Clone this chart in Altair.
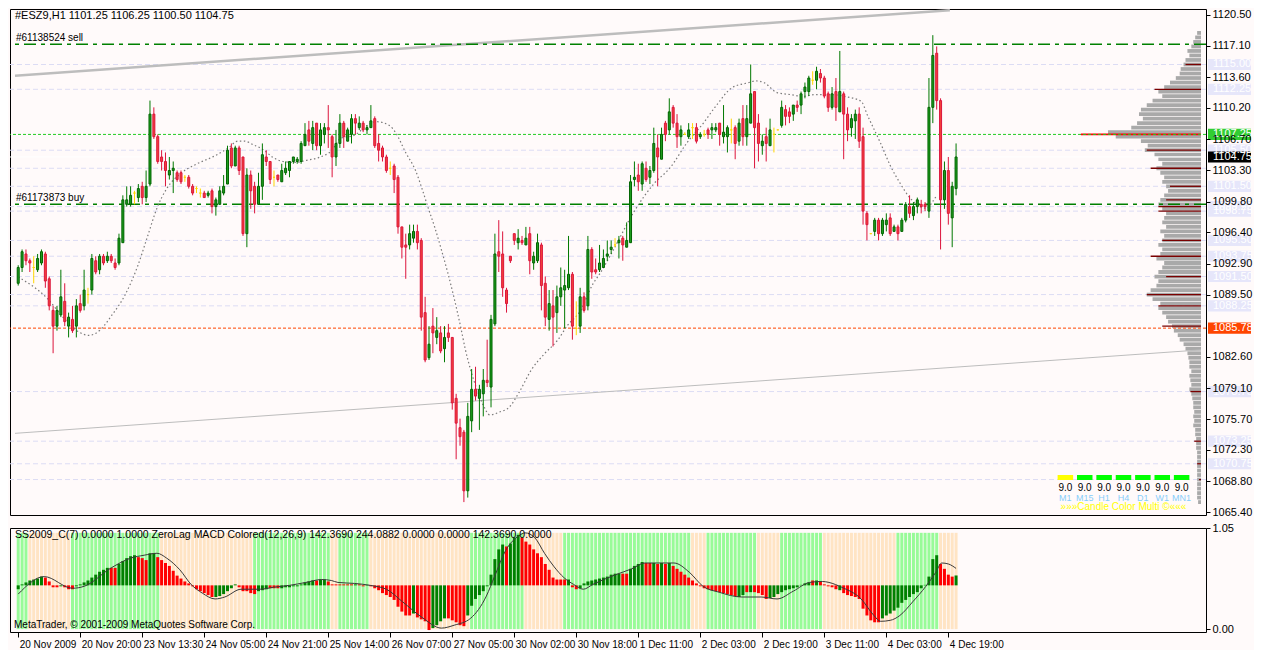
import altair as alt
import pandas as pd

FONT = "Liberation Sans"
BG = "#FFFAFA"
W, H1, H2 = 1196, 506, 104
X_DOM = [-0.83, 305.2]
Y_DOM = [1065.07, 1121.15]
MACD_DOM = [-672, 826]
SS_DOM = [-0.03, 1.05]
VOL_K = 0.25

# ---------------- candles (H1 bars, index 0..242) ----------------
opens = [
    1090.75, 1092.50, 1094.00, 1093.25, 1092.50, 1092.25, 1093.00, 1094.00, 1091.25, 1087.75,
    1086.00, 1087.25, 1088.75, 1086.00, 1086.75, 1086.00, 1088.50, 1088.25, 1089.50, 1090.00,
    1093.25, 1092.25, 1093.75, 1093.25, 1093.75, 1093.00, 1093.00, 1095.25, 1099.50, 1099.50,
    1100.75, 1100.25, 1101.50, 1100.25, 1101.75, 1109.50, 1107.00, 1104.75, 1104.25, 1102.75,
    1103.25, 1103.00, 1103.00, 1102.50, 1102.50, 1101.50, 1101.25, 1100.75, 1100.75, 1100.50,
    1101.00, 1099.25, 1099.50, 1100.75, 1101.75, 1105.75, 1103.75, 1105.75, 1104.75, 1096.25,
    1102.75, 1101.50, 1099.50, 1101.50, 1104.75, 1104.25, 1102.50, 1102.75, 1102.00, 1103.00,
    1103.25, 1104.25, 1104.25, 1104.25, 1106.00, 1107.75, 1106.25, 1108.50, 1106.00, 1107.25,
    1108.00, 1107.00, 1104.75, 1106.25, 1108.50, 1106.50, 1107.25, 1109.00, 1108.00, 1108.50,
    1107.75, 1108.00, 1109.00, 1106.25, 1105.75, 1104.75, 1103.50, 1103.75, 1102.50, 1097.00,
    1095.00, 1095.00, 1095.75, 1096.50, 1095.50, 1087.50, 1082.50, 1086.00, 1084.75, 1085.25,
    1083.50, 1085.25, 1084.75, 1078.00, 1074.75, 1074.25, 1067.75, 1075.50, 1079.00, 1078.00,
    1078.50, 1080.00, 1079.25, 1086.25, 1094.25, 1094.00, 1090.00, 1093.75, 1096.25, 1095.25,
    1095.50, 1095.00, 1096.25, 1093.00, 1093.25, 1095.00, 1090.75, 1086.75, 1088.25, 1087.50,
    1089.25, 1090.00, 1090.25, 1091.75, 1085.75, 1086.00, 1089.25, 1088.25, 1094.50, 1092.25,
    1092.25, 1092.50, 1093.75, 1094.50, 1095.00, 1095.25, 1095.75, 1094.75, 1095.25, 1102.25,
    1102.75, 1101.75, 1103.50, 1102.50, 1103.25, 1105.75, 1104.50, 1108.50, 1107.75, 1110.25,
    1108.50, 1107.00, 1107.25, 1107.00, 1108.00, 1108.00, 1107.00, 1107.25, 1107.75, 1107.75,
    1107.75, 1108.50, 1107.00, 1107.00, 1107.75, 1108.00, 1106.50, 1109.00, 1107.00, 1108.50,
    1112.00, 1108.50, 1106.00, 1107.00, 1106.00, 1107.25, 1107.75, 1108.25, 1110.00, 1109.75,
    1109.50, 1110.50, 1110.50, 1112.00, 1112.00, 1113.25, 1113.25, 1114.00, 1113.50, 1111.75,
    1110.25, 1112.00, 1109.75, 1111.75, 1109.50, 1108.00, 1108.75, 1109.50, 1107.00, 1098.50,
    1096.25, 1096.50, 1097.75, 1096.25, 1097.25, 1098.00, 1096.50, 1097.00, 1096.50, 1097.75,
    1099.25, 1098.25, 1099.25, 1099.50, 1099.50, 1098.75, 1110.25, 1116.25, 1111.00, 1100.00,
    1103.25, 1098.00, 1101.25,
]
highs = [
    1092.75, 1094.50, 1094.50, 1093.50, 1093.75, 1094.00, 1094.50, 1094.25, 1091.50, 1088.25,
    1088.25, 1092.25, 1090.75, 1087.50, 1088.25, 1089.00, 1089.50, 1092.25, 1090.25, 1094.00,
    1093.75, 1094.00, 1094.00, 1094.25, 1094.00, 1093.50, 1096.25, 1100.50, 1101.50, 1101.50,
    1101.00, 1101.75, 1102.00, 1103.25, 1111.00, 1110.25, 1107.25, 1105.50, 1105.25, 1104.75,
    1104.25, 1103.25, 1103.25, 1102.75, 1102.75, 1101.75, 1101.50, 1101.25, 1101.00, 1101.00,
    1101.25, 1100.25, 1101.50, 1102.75, 1106.00, 1106.25, 1106.00, 1106.00, 1104.75, 1103.50,
    1103.25, 1102.00, 1103.00, 1106.25, 1105.50, 1104.25, 1103.25, 1102.75, 1104.00, 1104.25,
    1104.25, 1104.75, 1104.75, 1106.50, 1108.50, 1108.75, 1108.75, 1108.50, 1108.50, 1108.50,
    1110.50, 1107.25, 1107.75, 1109.50, 1108.75, 1108.00, 1109.50, 1109.50, 1109.25, 1108.75,
    1108.25, 1110.50, 1109.25, 1107.25, 1106.00, 1105.00, 1104.25, 1104.00, 1102.75, 1097.00,
    1096.25, 1097.25, 1097.25, 1097.25, 1095.75, 1089.25, 1086.00, 1088.00, 1087.00, 1086.00,
    1086.00, 1086.25, 1084.75, 1078.50, 1075.75, 1074.50, 1077.50, 1081.25, 1081.50, 1079.50,
    1081.25, 1084.50, 1087.25, 1096.25, 1097.75, 1096.50, 1090.25, 1093.75, 1096.25, 1096.75,
    1096.00, 1097.00, 1097.00, 1094.25, 1096.25, 1095.25, 1091.50, 1090.00, 1090.00, 1090.50,
    1092.50, 1092.25, 1096.00, 1092.00, 1088.75, 1090.25, 1089.75, 1096.00, 1094.75, 1093.50,
    1095.00, 1094.50, 1095.50, 1095.50, 1095.75, 1096.00, 1096.00, 1097.50, 1102.75, 1104.25,
    1104.00, 1104.25, 1104.25, 1103.75, 1108.00, 1107.25, 1108.00, 1108.75, 1111.25, 1110.50,
    1109.50, 1108.25, 1107.50, 1108.50, 1108.50, 1108.50, 1107.50, 1107.75, 1108.00, 1108.50,
    1108.50, 1108.50, 1110.50, 1108.25, 1109.00, 1108.25, 1109.00, 1110.50, 1110.50, 1115.00,
    1112.00, 1109.50, 1107.25, 1108.00, 1109.00, 1108.00, 1107.75, 1111.00, 1110.50, 1110.25,
    1110.50, 1111.00, 1112.00, 1113.00, 1113.75, 1114.25, 1114.75, 1114.50, 1113.75, 1112.00,
    1112.50, 1113.50, 1116.50, 1112.00, 1110.25, 1109.50, 1110.00, 1110.25, 1108.00, 1098.75,
    1096.25, 1098.00, 1098.00, 1098.00, 1098.50, 1098.50, 1097.25, 1097.25, 1098.00, 1099.75,
    1100.50, 1099.75, 1100.25, 1100.00, 1099.75, 1113.50, 1118.25, 1117.00, 1111.25, 1104.25,
    1104.75, 1102.00, 1106.25,
]
lows = [
    1090.50, 1092.00, 1092.75, 1092.00, 1090.75, 1092.00, 1092.75, 1090.25, 1087.75, 1083.00,
    1085.50, 1087.00, 1086.00, 1084.75, 1085.25, 1084.75, 1087.50, 1087.75, 1088.50, 1089.50,
    1091.75, 1091.75, 1092.75, 1093.00, 1093.00, 1092.25, 1092.75, 1095.25, 1099.25, 1099.25,
    1099.50, 1099.75, 1099.50, 1099.75, 1101.50, 1106.75, 1104.00, 1103.25, 1101.50, 1102.25,
    1100.75, 1102.00, 1101.75, 1102.00, 1101.25, 1100.50, 1100.75, 1100.25, 1100.25, 1100.25,
    1098.50, 1098.25, 1099.50, 1100.50, 1101.75, 1103.50, 1103.75, 1102.75, 1096.00, 1094.75,
    1099.00, 1098.50, 1099.50, 1100.00, 1103.75, 1101.75, 1101.50, 1102.00, 1102.00, 1102.75,
    1102.50, 1104.00, 1104.00, 1104.00, 1106.00, 1106.00, 1105.50, 1105.50, 1105.00, 1106.25,
    1105.75, 1102.50, 1103.75, 1105.75, 1105.75, 1106.50, 1106.25, 1107.25, 1107.75, 1107.50,
    1107.25, 1108.00, 1105.75, 1104.25, 1104.25, 1103.00, 1102.75, 1100.75, 1096.25, 1093.50,
    1091.25, 1094.50, 1095.25, 1094.50, 1085.50, 1082.00, 1082.25, 1083.00, 1084.00, 1083.00,
    1082.00, 1084.25, 1076.75, 1071.25, 1072.75, 1066.50, 1067.00, 1074.25, 1077.75, 1074.50,
    1076.00, 1079.25, 1077.00, 1086.00, 1092.00, 1089.25, 1087.50, 1093.00, 1095.00, 1094.50,
    1095.00, 1095.00, 1091.75, 1092.25, 1093.00, 1087.75, 1086.00, 1085.50, 1083.75, 1085.25,
    1088.25, 1085.75, 1090.00, 1084.50, 1085.00, 1085.25, 1087.50, 1087.75, 1091.25, 1091.75,
    1092.00, 1092.50, 1093.25, 1094.00, 1094.75, 1093.50, 1093.25, 1094.75, 1095.25, 1101.50,
    1101.00, 1101.00, 1102.00, 1101.75, 1103.00, 1101.50, 1104.50, 1106.50, 1107.25, 1108.00,
    1105.75, 1106.00, 1107.25, 1106.75, 1106.75, 1106.25, 1106.75, 1107.00, 1106.75, 1106.75,
    1107.50, 1106.00, 1106.25, 1105.25, 1106.25, 1104.50, 1106.00, 1106.00, 1106.00, 1108.50,
    1103.50, 1104.25, 1105.00, 1104.25, 1106.00, 1105.25, 1107.75, 1108.00, 1108.25, 1108.50,
    1108.75, 1109.75, 1109.50, 1111.25, 1111.50, 1112.75, 1112.25, 1113.00, 1111.25, 1109.75,
    1110.00, 1108.75, 1109.75, 1104.50, 1106.50, 1107.00, 1106.75, 1105.75, 1097.25, 1095.50,
    1096.25, 1096.00, 1095.50, 1096.00, 1096.50, 1096.00, 1096.50, 1095.50, 1096.50, 1097.50,
    1098.00, 1097.75, 1098.50, 1098.50, 1098.75, 1098.00, 1108.50, 1110.00, 1094.50, 1099.00,
    1097.25, 1094.75, 1100.50,
]
closes = [
    1092.50, 1094.25, 1093.25, 1093.00, 1092.50, 1093.50, 1094.25, 1091.00, 1088.25, 1086.00,
    1087.75, 1089.25, 1086.50, 1087.00, 1085.50, 1088.25, 1087.75, 1090.00, 1089.50, 1093.50,
    1092.00, 1093.75, 1093.00, 1093.75, 1093.25, 1092.50, 1095.75, 1100.00, 1100.00, 1100.50,
    1100.75, 1101.25, 1100.25, 1101.50, 1109.50, 1107.00, 1104.25, 1104.25, 1103.25, 1103.25,
    1103.50, 1102.25, 1102.00, 1102.50, 1101.50, 1100.75, 1101.25, 1100.75, 1100.25, 1100.75,
    1099.25, 1100.00, 1101.00, 1101.50, 1105.50, 1103.75, 1105.75, 1103.25, 1096.25, 1102.75,
    1101.00, 1099.50, 1101.50, 1105.00, 1104.25, 1102.25, 1102.50, 1102.25, 1103.25, 1103.50,
    1104.25, 1104.75, 1104.50, 1106.25, 1107.25, 1106.50, 1108.00, 1106.00, 1107.75, 1108.00,
    1107.75, 1104.75, 1106.25, 1108.50, 1107.00, 1107.75, 1109.00, 1108.50, 1108.50, 1107.75,
    1108.00, 1108.75, 1106.00, 1105.50, 1104.75, 1103.25, 1103.50, 1102.25, 1097.00, 1094.75,
    1094.75, 1096.25, 1096.50, 1095.25, 1087.00, 1082.25, 1084.00, 1085.25, 1085.50, 1083.25,
    1084.75, 1084.75, 1077.50, 1075.25, 1073.75, 1067.75, 1076.00, 1079.00, 1078.25, 1079.00,
    1080.00, 1079.75, 1086.75, 1094.00, 1093.75, 1090.25, 1088.50, 1093.25, 1095.50, 1095.75,
    1095.25, 1095.75, 1093.25, 1093.75, 1095.25, 1090.50, 1087.00, 1088.50, 1087.00, 1089.25,
    1090.25, 1090.50, 1091.75, 1086.00, 1085.75, 1089.25, 1087.75, 1094.50, 1092.00, 1092.00,
    1093.00, 1093.50, 1094.00, 1094.75, 1095.00, 1095.50, 1095.00, 1095.50, 1102.00, 1102.50,
    1102.00, 1104.00, 1102.25, 1103.25, 1106.25, 1104.75, 1107.25, 1107.25, 1109.75, 1108.50,
    1107.00, 1107.75, 1107.25, 1107.75, 1108.00, 1106.50, 1107.25, 1107.25, 1107.25, 1108.00,
    1108.00, 1107.25, 1107.50, 1108.00, 1107.75, 1106.25, 1108.50, 1107.00, 1109.00, 1111.75,
    1108.00, 1106.25, 1106.50, 1106.25, 1107.75, 1107.25, 1107.75, 1110.25, 1109.25, 1109.25,
    1110.50, 1110.25, 1111.75, 1112.50, 1113.50, 1113.25, 1114.25, 1113.50, 1111.50, 1110.25,
    1111.75, 1110.25, 1112.00, 1109.50, 1107.75, 1109.00, 1109.50, 1106.50, 1098.75, 1097.25,
    1096.25, 1097.75, 1096.25, 1097.75, 1097.75, 1096.25, 1097.00, 1096.25, 1097.75, 1099.50,
    1098.50, 1099.25, 1100.00, 1099.25, 1099.25, 1110.25, 1116.00, 1111.00, 1100.00, 1103.25,
    1098.50, 1101.50, 1104.75,
]

# dotted moving average (bar position, price)
ma_idx = [0, 7.5, 11.7, 15.8, 18.3, 21, 24.2, 27.5, 30.8, 33.3, 35.8, 38.3, 41.7, 45.8, 50.8,
          54.2, 56.7, 58.3, 60.8, 63.3, 65.8, 68.3, 71.7, 74.2, 77.5, 80.8, 83.3, 86.7, 90,
          92.5, 95.8, 97.5, 100, 102.5, 104.2, 105.8, 107.5, 109.2, 110.8, 112.5, 114.2, 115.4,
          116.7, 118.3, 120, 121.7, 124.2, 126.7, 129.2, 132.5, 135.8, 139.2, 141.7, 145, 148.3,
          150, 153.3, 159, 164, 168.3, 172.5, 176.7, 180, 184.2, 188.3, 190.4, 192.5, 195.8,
          199.2, 202.5, 205.8, 209.2, 213.3, 217.5, 219.2, 222.5, 225, 227.5, 230, 232.5, 234.5,
          236, 237]
ma_val = [1091.44, 1089.07, 1086.92, 1085.31, 1084.98, 1085.52, 1087.24, 1089.40, 1092.63,
          1095.85, 1099.08, 1101.23, 1102.85, 1103.92, 1104.89, 1105.75, 1106.51, 1106.51,
          1106.08, 1105.54, 1104.68, 1104.25, 1104.14, 1104.36, 1104.68, 1105.43, 1106.83,
          1107.15, 1108.23, 1108.66, 1108.23, 1107.37, 1105.22, 1103.28, 1101.23, 1099.08,
          1096.93, 1094.46, 1091.98, 1089.07, 1085.85, 1083.37, 1081.22, 1079.07, 1077.24,
          1076.16, 1076.48, 1077.02, 1078.63, 1081.22, 1082.94, 1084.45, 1086.06, 1087.67,
          1090.69, 1091.76, 1094.24, 1098.76, 1101.77, 1103.60, 1106.29, 1108.45, 1110.38,
          1112.43, 1112.97, 1113.18, 1112.97, 1111.89, 1111.67, 1111.46, 1111.67, 1111.67,
          1111.46, 1110.92, 1109.31, 1106.29, 1103.82, 1101.88, 1100.27, 1099.30, 1099.08,
          1099.84, 1100.48]

# trend lines (bar position, price)
upper_trend_idx = [-0.83, 240.4]
upper_trend_val = [1113.76, 1121.0]
lower_trend_idx = [-0.83, 305.2]
lower_trend_val = [1074.12, 1083.37]

# order lines
order_prices = [1117.25, 1099.50]
order_labels = ["#61138524 sell", "#61173873 buy"]

# alert / price lines
alert_green = 1107.25
alert_orange = 1085.78
bid_price = closes[-1]

# lavender level lines with right-side tags
level_prices = [1115.00, 1112.25, 1105.50, 1103.50, 1101.50, 1099.25, 1098.75, 1095.50,
                1093.75, 1091.50, 1089.50, 1088.25, 1078.75, 1073.25, 1070.75, 1069.00]
level_tagged = [True, True, True, False, True, True, True, True,
                True, True, False, True, True, True, True, False]

# volume profile (price levels 1118.5 .. 1066.5, step 0.5)
profile_top, profile_step = 1118.5, 0.5
profile_vols = [4, 6, 8, 10, 14, 12, 16, 18, 21, 22,
                26, 32, 38, 44, 40, 50, 56, 62, 64, 60,
                66, 72, 96, 88, 62, 55, 58, 48, 44, 40,
                46, 42, 38, 40, 36, 34, 38, 42, 44, 40,
                36, 38, 40, 36, 42, 38, 40, 44, 40, 42,
                46, 38, 40, 44, 48, 44, 46, 52, 56, 50,
                42, 44, 40, 36, 34, 30, 28, 24, 22, 18,
                16, 14, 13, 12, 12, 10, 12, 11, 10, 12,
                10, 9, 8, 8, 7, 8, 7, 8, 6, 6,
                5, 5, 5, 4, 4, 4, 4, 4, 4, 4,
                4, 4, 4, 4, 3]
node_prices = [1115.00, 1112.25, 1105.50, 1103.50, 1101.50, 1100.00, 1099.25, 1098.75, 1095.50,
               1093.75, 1091.50, 1089.50, 1088.25, 1086.00, 1078.75, 1073.25, 1070.75, 1069.00]
node_vols = [16, 48, 56, 52, 32, 36, 44, 44, 40, 52, 36, 56, 44, 40, 11, 7, 4, 2]
poc_price, poc_vol = 1107.25, 124

# right axis price ticks
price_ticks = [1120.50, 1117.10, 1113.60, 1110.20, 1106.70, 1103.30, 1099.80, 1096.40,
               1092.90, 1089.50, 1082.60, 1079.10, 1075.70, 1072.30, 1068.80, 1065.40]

# time axis
tick_idx = [0, 16, 32, 48, 64, 80, 96, 112, 128, 144, 160, 176, 192, 208, 224, 240]
tick_labels = ["20 Nov 2009", "20 Nov 20:00", "23 Nov 13:30", "24 Nov 05:00", "24 Nov 21:00",
               "25 Nov 14:00", "26 Nov 07:00", "27 Nov 05:00", "30 Nov 02:00", "30 Nov 18:00",
               "1 Dec 11:00", "2 Dec 03:00", "2 Dec 19:00", "3 Dec 11:00", "4 Dec 03:00",
               "4 Dec 19:00"]

# multi timeframe widget
widget_tfs = ["M1", "M15", "H1", "H4", "D1", "W1", "MN1"]
widget_vals = [9.0, 9.0, 9.0, 9.0, 9.0, 9.0, 9.0]
widget_state = ["flat", "up", "up", "up", "up", "up", "up"]

# ---------------- MACD sub window ----------------
macd_hist = [
    -56, 14, 42, 70, 84, 98, 126, 112, 56, -28,
    -28, -14, -28, -56, -56, -14, 14, 42, 70, 112,
    154, 196, 224, 252, 252, 252, 308, 350, 392, 420,
    434, 406, 392, 364, 462, 462, 406, 364, 322, 280,
    210, 140, 98, 56, 28, -14, -56, -84, -112, -140,
    -168, -168, -154, -126, -84, -42, 14, -28, -84, -84,
    -112, -126, -84, -70, -56, -42, -42, -42, -42, -28,
    -28, -14, -14, 14, 42, 56, 70, 70, 84, 84,
    56, 14, 14, 14, 14, 14, 14, 14, 14, -14,
    7, -14, -42, -70, -112, -140, -168, -210, -308, -378,
    -434, -434, -406, -462, -490, -518, -644, -616, -574, -518,
    -476, -476, -504, -532, -574, -588, -434, -294, -196, -140,
    -84, -14, 154, 378, 518, 588, 560, 602, 686, 728,
    686, 630, 588, 518, 462, 406, 308, 224, 112, 84,
    84, 84, 84, -28, -56, -42, 28, 56, 70, 84,
    98, 112, 126, 154, 168, 168, 168, 168, 238, 280,
    308, 336, 322, 322, 322, 308, 322, 308, 322, 280,
    238, 196, 154, 112, 70, 28, -14, -42, -56, -70,
    -84, -98, -112, -126, -140, -154, -168, -140, -98, -98,
    -98, -112, -140, -196, -182, -168, -126, -98, -70, -56,
    -42, -28, 7, 28, 42, 70, 70, 56, 14, -14,
    -28, -56, -70, -112, -140, -154, -168, -196, -336, -434,
    -504, -532, -532, -476, -434, -406, -364, -322, -252, -210,
    -168, -126, -98, -42, 7, 126, 378, 434, 308, 238,
    154, 126, 142.369,
]
macd_dir = list(
    "GGGGGGGRRR" "RGRRRGGGGG" "GGGGRRGGGG" "GRRRGGRRRR" "RRRRRRRRRR"
    "RGGGGGGRRR" "RRGGGRRRGG" "GGGGGGGRGG" "RRRRRRRGRR" "GRRRRRRRRR"
    "RRGRRRRGGG" "GRRRRRGGGG" "GGGGGGRGGG" "RRRRRRRRRR" "RRGRRGGGGG"
    "GGGGGGRRGG" "GGRRGRGRGR" "RRRRRRRRRR" "RRRRRRGGRG" "RRRRGGGGGG"
    "GGGGGRGRRR" "RRGRRRRRRR" "RRRGGGGGGG" "GGGGGGGGRR" "RRG"
)
signal_idx = [0, 6.7, 14, 17, 24, 29, 32.5, 35.8, 38.3, 41.7, 44.6, 47.5, 50.8, 53.3, 57.5,
              62.5, 65.8, 70, 74.2, 78.3, 80.8, 82.5, 86.7, 90.8, 95, 99.2, 104.2, 109.2,
              112.5, 116.7, 120.8, 122.9, 125.8, 129.2, 130.8, 133.3, 135.8, 138.3, 140.8,
              143.3, 145.8, 148.3, 154.2, 158.3, 161.7, 169.2, 173.3, 176.7, 180.8, 186.7,
              191.7, 195.8, 200, 204.2, 207.5, 209.2, 212.5, 217.5, 220.8, 222.5, 225, 227.5,
              230.8, 234.2, 236.7, 238.3, 240, 242]
signal_val = [-126, 126, -42, -14, 252, 392, 434, 462, 392, 224, 14, -112, -196, -168, -56,
              -56, -28, 0, 42, 84, 70, 42, 28, 0, -56, -238, -462, -616, -574, -476, -154,
              126, 504, 714, 756, 686, 462, 266, 112, 14, -56, 14, 154, 238, 322, 322, 182,
              -14, -98, -168, -168, -196, -84, 42, 56, 42, -28, -196, -434, -518, -504, -434,
              -238, -14, 182, 322, 308, 244.0882]
# SS2009_C state per bar, as runs
ss_run_len = [3, 11, 23, 24, 20, 2, 8, 26, 14, 10, 33, 4, 13, 6, 11, 19, 11, 5]
ss_run_state = ["G", "P", "G", "P", "G", "P", "G", "P", "G", "P", "G", "P", "G", "P", "G", "P", "G", "P"]

# ---------------- styling helpers ----------------
BODY_FILL = {"up": "#1E9E1E", "down": "#F2443A", "doji": "#FFD700"}
BODY_LINE = {"up": "#006400", "down": "#DC143C", "doji": "#FFD700"}
WICK = {"up": "#007800", "down": "#DC143C", "doji": "#FFD700"}

n = len(opens)
idx = list(range(n))
kind = ["up" if c > o else ("down" if c < o else "doji") for o, c in zip(opens, closes)]
candles = pd.DataFrame({"i": idx, "open": opens, "high": highs, "low": lows, "close": closes, "kind": kind})
candles["fill"] = candles["kind"].map(BODY_FILL)
candles["line"] = candles["kind"].map(BODY_LINE)
candles["wick"] = candles["kind"].map(WICK)

xscale = alt.Scale(domain=X_DOM, nice=False, zero=False)
yscale = alt.Scale(domain=Y_DOM, nice=False, zero=False)

y_axis = alt.Axis(orient="right", values=price_ticks, format=".2f", title=None, grid=False,
                  domain=False, tickSize=4, tickColor="black", labelColor="black",
                  labelFont=FONT, labelFontSize=11, labelPadding=2, zindex=1,
                  labelOverlap=False)


def X(field):
    return alt.X(field, scale=xscale, axis=None)


def Y(field):
    return alt.Y(field, scale=yscale, axis=y_axis)


# lavender levels
lev = pd.DataFrame({"p": level_prices, "tag": level_tagged})
lev_rules = alt.Chart(lev).mark_rule(color="#DCDCF4", strokeWidth=1, strokeDash=[5, 3]).encode(y=Y("p:Q"))

# volume profile
prof = pd.DataFrame({"p": [profile_top - k * profile_step for k in range(len(profile_vols))],
                     "vol": profile_vols})
prof["x0"] = X_DOM[1]
prof["x1"] = X_DOM[1] - prof["vol"] * VOL_K
prof["y0"] = prof["p"] + 0.21
prof["y1"] = prof["p"] - 0.21
prof_bars = alt.Chart(prof).mark_rect(color="#A9A9A9").encode(
    x=X("x1:Q"), x2="x0:Q", y=Y("y0:Q"), y2="y1:Q")

nodes = pd.DataFrame({"p": node_prices, "vol": node_vols})
nodes["x0"] = X_DOM[1]
nodes["x1"] = X_DOM[1] - nodes["vol"] * VOL_K
node_rules = alt.Chart(nodes).mark_rule(color="#7A0000", strokeWidth=1.3).encode(
    x=X("x1:Q"), x2="x0:Q", y=Y("p:Q"))
poc = pd.DataFrame({"p": [poc_price], "x0": [X_DOM[1]], "x1": [X_DOM[1] - poc_vol * VOL_K]})
poc_rule = alt.Chart(poc).mark_rule(color="#FF0000", strokeWidth=1.6).encode(
    x=X("x1:Q"), x2="x0:Q", y=Y("p:Q"))

bid = alt.Chart(pd.DataFrame({"p": [bid_price]})).mark_rule(color="#FFFFFF", strokeWidth=1).encode(y=Y("p:Q"))

# trend lines
up_tr = alt.Chart(pd.DataFrame({"i": upper_trend_idx, "p": upper_trend_val})).mark_line(
    color="#BDBDBD", strokeWidth=2.5, clip=True).encode(x=X("i:Q"), y=Y("p:Q"))
lo_tr = alt.Chart(pd.DataFrame({"i": lower_trend_idx, "p": lower_trend_val})).mark_line(
    color="#BDBDBD", strokeWidth=1, clip=True).encode(x=X("i:Q"), y=Y("p:Q"))

# alert lines
green_line = alt.Chart(pd.DataFrame({"p": [alert_green]})).mark_rule(
    color="#22CC22", strokeWidth=1, strokeDash=[3, 2]).encode(y=Y("p:Q"))
orange_line = alt.Chart(pd.DataFrame({"p": [alert_orange]})).mark_rule(
    color="#FF4500", strokeWidth=1, strokeDash=[3, 2]).encode(y=Y("p:Q"))

# orders
orders = pd.DataFrame({"p": order_prices, "label": order_labels})
order_rules = alt.Chart(orders).mark_rule(color="#008000", strokeWidth=1.5, strokeDash=[12, 5, 4, 5]).encode(
    y=Y("p:Q"))
order_text = alt.Chart(orders).mark_text(align="left", baseline="bottom", dy=-1, font=FONT,
                                         fontSize=10, color="black").encode(
    x=alt.value(6), y=Y("p:Q"), text="label:N")

# moving average
ma = alt.Chart(pd.DataFrame({"i": ma_idx, "p": ma_val})).mark_line(
    color="#7A7A7A", strokeWidth=1.2, strokeDash=[1.5, 2.5], interpolate="monotone").encode(
    x=X("i:Q"), y=Y("p:Q"))

# candles
wicks = alt.Chart(candles).mark_rule(strokeWidth=1).encode(
    x=X("i:Q"), y=Y("low:Q"), y2="high:Q", color=alt.Color("wick:N", scale=None))
bodies = alt.Chart(candles).mark_bar(size=2, strokeWidth=1).encode(
    x=X("i:Q"), y=Y("open:Q"), y2="close:Q",
    fill=alt.Fill("fill:N", scale=None), stroke=alt.Stroke("line:N", scale=None))

# title
title_str = f"#ESZ9,H1  {opens[-1]:.2f} {highs[-1]:.2f} {lows[-1]:.2f} {closes[-1]:.2f}"
title = alt.Chart(pd.DataFrame({"t": [title_str]})).mark_text(
    align="left", baseline="middle", font=FONT, fontSize=11, color="black").encode(
    x=alt.value(5), y=alt.value(7), text="t:N")

# widget
wd = pd.DataFrame({"k": list(range(len(widget_tfs))), "tf": widget_tfs, "val": widget_vals,
                   "state": widget_state})
wd["xc"] = 270.2 + 5.0 * wd["k"]
wd["xs"] = wd["xc"] - 2.0
wd["xe"] = wd["xc"] + 2.0
wd["col"] = wd["state"].map({"flat": "#FFFF00", "up": "#00FF00", "down": "#FF0000"})
wd["vs"] = wd["val"].map(lambda v: f"{v:.1f}")
w_rect = alt.Chart(wd).mark_rect().encode(
    x=X("xs:Q"), x2="xe:Q", y=alt.value(466), y2=alt.value(471), fill=alt.Fill("col:N", scale=None))
w_val = alt.Chart(wd).mark_text(font=FONT, fontSize=10, color="black", baseline="middle").encode(
    x=X("xc:Q"), y=alt.value(479), text="vs:N")
w_tf = alt.Chart(wd).mark_text(font=FONT, fontSize=9, color="#87CEFA", baseline="middle").encode(
    x=X("xc:Q"), y=alt.value(488.5), text="tf:N")
w_name = alt.Chart(pd.DataFrame({"t": ["»»»Candle Color Multi ©«««"], "xc": [285.2]})).mark_text(
    font=FONT, fontSize=10, color="#FFFF00", baseline="middle").encode(
    x=X("xc:Q"), y=alt.value(498), text="t:N")

# right-side price tags
tags = []
for p, t in zip(level_prices, level_tagged):
    if t:
        tags.append({"p": p, "text": f"{p:.2f}", "bg": "#E6E6FA", "fg": "#FFFFFF"})
tags.append({"p": alert_green, "text": f"{alert_green:.2f}", "bg": "#32CD32", "fg": "#FFFFFF"})
tags.append({"p": bid_price, "text": f"{bid_price:.2f}", "bg": "#000000", "fg": "#FFFFFF"})
tags.append({"p": alert_orange, "text": f"{alert_orange:.2f}", "bg": "#FF4500", "fg": "#FFFFFF"})
tag_df = pd.DataFrame(tags)
tag_df["top"] = tag_df["p"] + 0.62
tag_df["bot"] = tag_df["p"] - 0.62
tag_rect = alt.Chart(tag_df).mark_rect().encode(
    x=alt.value(W + 2), x2=alt.value(W + 45), y=Y("top:Q"), y2="bot:Q",
    fill=alt.Fill("bg:N", scale=None))
tag_text = alt.Chart(tag_df).mark_text(align="left", baseline="middle", font=FONT, fontSize=11).encode(
    x=alt.value(W + 7), y=Y("p:Q"), text="text:N", color=alt.Color("fg:N", scale=None))

main = alt.layer(
    lev_rules, prof_bars, node_rules, poc_rule, bid, up_tr, lo_tr, green_line, orange_line,
    order_rules, ma, wicks, bodies, order_text, title, w_rect, w_val, w_tf, w_name,
    tag_rect, tag_text,
).properties(width=W, height=H1)

# ---------------- MACD panel ----------------
ss_state = []
for ln, st in zip(ss_run_len, ss_run_state):
    ss_state += [st] * ln
macd = pd.DataFrame({"i": idx, "hist": macd_hist, "dir": macd_dir, "ss": ss_state})
macd["one"] = 1.0
macd["zero"] = 0.0
macd["hcol"] = macd["dir"].map({"G": "#008000", "R": "#FF0000"})
macd["scol"] = macd["ss"].map({"G": "#98FB98", "P": "#FFE4C4"})

label_expr = "[" + ",".join(f"'{s}'" for s in tick_labels) + "][round(datum.value / 16)]"
x_axis = alt.Axis(values=tick_idx, labelExpr=label_expr, title=None, grid=False, domain=False,
                  tickSize=5, tickColor="black", labelAlign="left", labelBaseline="top",
                  labelPadding=2, labelFont=FONT, labelFontSize=10, labelColor="black",
                  labelFlush=False, labelOverlap=False, labelBound=False, labelOffset=1)
ss_axis = alt.Axis(orient="right", values=[1.05, 0.0], format=".2f", title=None, grid=False,
                   domain=False, tickSize=4, tickColor="black", labelColor="black",
                   labelFont=FONT, labelFontSize=11, labelPadding=2, labelOverlap=False)

ss_scale = alt.Scale(domain=SS_DOM, nice=False, zero=False)
macd_scale = alt.Scale(domain=MACD_DOM, nice=False, zero=False)
XM = alt.X("i:Q", scale=xscale, axis=x_axis)

ss_bars = alt.Chart(macd).mark_bar(size=3).encode(
    x=XM, y=alt.Y("one:Q", scale=ss_scale, axis=ss_axis), y2="zero:Q",
    fill=alt.Fill("scol:N", scale=None))
hist = alt.Chart(macd).mark_bar(size=3).encode(
    x=XM, y=alt.Y("hist:Q", scale=macd_scale, axis=None), y2="zero:Q",
    fill=alt.Fill("hcol:N", scale=None))
sig = alt.Chart(pd.DataFrame({"i": signal_idx, "v": signal_val})).mark_line(
    color="#3A3A3A", strokeWidth=1, interpolate="monotone").encode(
    x=XM, y=alt.Y("v:Q", scale=macd_scale, axis=None))

macd_title = (f"SS2009_C(7) 0.0000 1.0000  ZeroLag MACD Colored(12,26,9) "
              f"{macd_hist[-1]:.4f} {signal_val[-1]:.4f} 0.0000 0.0000 {macd_hist[-1]:.4f} 0.0000")
m_title = alt.Chart(pd.DataFrame({"t": [macd_title]})).mark_text(
    align="left", baseline="middle", font=FONT, fontSize=10.5, color="black").encode(
    x=alt.value(5), y=alt.value(7), text="t:N")
m_copy = alt.Chart(pd.DataFrame({"t": ["MetaTrader, © 2001-2009 MetaQuotes Software Corp."]})).mark_text(
    align="left", baseline="middle", font=FONT, fontSize=10, color="black").encode(
    x=alt.value(4), y=alt.value(97), text="t:N")

macd_panel = alt.layer(ss_bars, hist, sig, m_title, m_copy).resolve_scale(
    y="independent").properties(width=W, height=H2)

chart = alt.vconcat(main, macd_panel, spacing=3).resolve_scale(
    x="independent", y="independent"
).configure(
    background=BG, padding={"left": 0, "top": 0, "right": 0, "bottom": 0}
).configure_view(
    stroke="black", strokeWidth=1, fill=BG
).configure_axis(grid=False)

chart.save("out.html", embed_options={"renderer": "svg", "actions": False})
